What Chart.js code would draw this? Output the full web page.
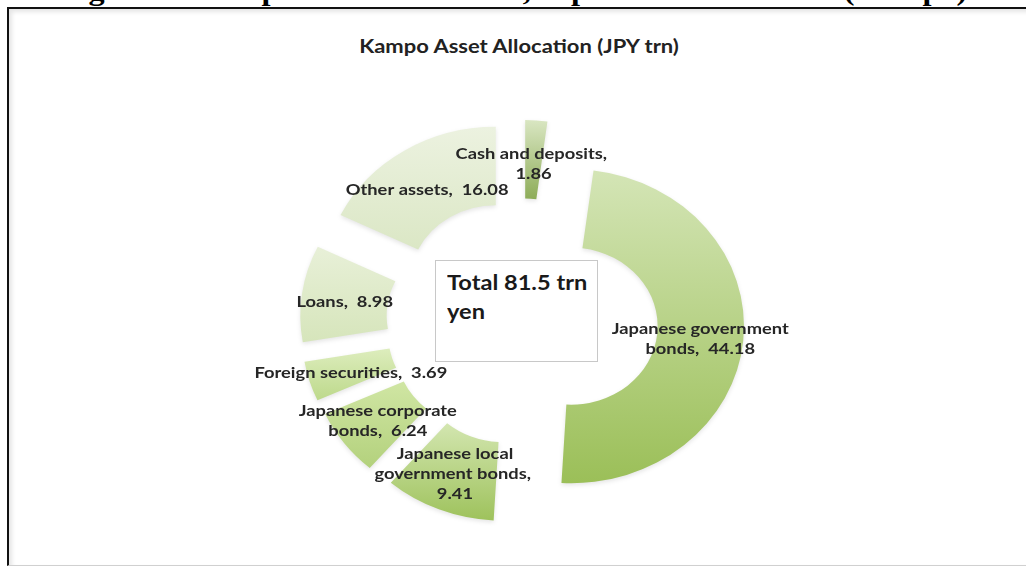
<!DOCTYPE html>
<html>
<head>
<meta charset="utf-8">
<script src="https://cdn.jsdelivr.net/npm/chart.js@4"></script>
<style>
  body { margin: 0; width: 1026px; height: 568px; overflow: hidden; background: #fff; position: relative; }
  .caption { position: absolute; left: 60px; top: -25px; font: bold 28px "Liberation Serif", serif; white-space: nowrap; color: #000; transform: scaleX(1.15); transform-origin: left top; }
  .frame { position: absolute; left: 7px; top: 7px; width: 1040px; height: 556px; border-left: 2px solid #111; border-top: 2px solid #111; border-bottom: 1px solid #d0d0d0; box-shadow: inset 3px 3px 4px rgba(0,0,0,0.10); }
  .title { position: absolute; left: 0; width: 1038px; top: 35px; text-align: center; }
  .title span { display: inline-block; font: bold 18px Lato, sans-serif; color: #222; transform: scaleX(1.22); }
  .total { position: absolute; left: 435px; top: 260px; width: 163px; height: 102px; box-sizing: border-box; border: 1px solid #c8c8c8; background: #fff; padding: 7px 0 0 11px; }
  .total div { font: bold 20px Lato, sans-serif; line-height: 29px; color: #1a1a1a; transform: scaleX(1.18); transform-origin: left top; white-space: nowrap; }
  #chart { position: absolute; left: 0; top: 0; }
</style>
</head>
<body>
<div class="caption">Figure 8: Kampo Asset Allocation, Japan Post Insurance (Kampo)</div>
<div class="frame"></div>
<div class="title"><span>Kampo Asset Allocation (JPY trn)</span></div>
<div class="total"><div>Total 81.5 trn<br>yen</div></div>
<canvas id="chart" width="1026" height="568"></canvas>
<script>
// data, clockwise from 12 o'clock
const categories = ["Cash and deposits", "Japanese government bonds", "Japanese local government bonds",
    "Japanese corporate bonds", "Foreign securities", "Loans", "Other assets"];
const values = [1.86, 44.18, 9.41, 6.24, 3.69, 8.98, 16.08];

// look
const topColors    = ["#d9e6c2", "#d4e5b6", "#d3e6b0", "#d0e6a4", "#ddedbd", "#e8f0d8", "#ecf2e0"];
const bottomColors = ["#8dac58", "#9bbf58", "#9ec25c", "#b3d17c", "#bdd98b", "#d6e5bb", "#dbe7c5"];
const wrapWidths = [170, 200, 175, 190, 260, 180, 230];
const labelNudge = [[0, 5], [0, 2], [0, 1], [-1, 2], [0, 3], [0, 3], [0, 6]];
const explode = 45;
const stretchX = 1.1;
const textStretch = 1.22;

const explodePlugin = {
    id: "explode",
    beforeDatasetDraw(chart, args) {
        const ctx = chart.ctx;
        args.meta.data.forEach((arc, i) => {
            const mid = (arc.startAngle + arc.endAngle) / 2;
            const tx = Math.cos(mid) * explode;
            const ty = Math.sin(mid) * explode;
            // vertical extent of the slice, for its gradient
            let yMin = Infinity, yMax = -Infinity;
            for (let k = 0; k <= 40; k++) {
                const a = arc.startAngle + (arc.endAngle - arc.startAngle) * k / 40;
                [arc.innerRadius, arc.outerRadius].forEach(r => {
                    const y = arc.y + ty + Math.sin(a) * r;
                    yMin = Math.min(yMin, y);
                    yMax = Math.max(yMax, y);
                });
            }
            const grad = ctx.createLinearGradient(0, yMin - ty, 0, yMax - ty);
            grad.addColorStop(0, topColors[i]);
            grad.addColorStop(1, bottomColors[i]);
            arc.options.backgroundColor = grad;
            ctx.save();
            ctx.translate(arc.x, arc.y);
            ctx.scale(stretchX, 1);
            ctx.translate(-arc.x, -arc.y);
            ctx.translate(tx, ty);
            ctx.shadowColor = "rgba(0,0,0,0.10)";
            ctx.shadowBlur = 4;
            ctx.shadowOffsetY = 2;
            arc.draw(ctx);
            ctx.restore();
        });
        return false;
    }
};

function wrap(ctx, text, maxW) {
    const words = text.split(" ");
    const lines = [];
    let line = "";
    words.forEach(w => {
        const test = line ? line + " " + w : w;
        if (line && ctx.measureText(test).width * textStretch > maxW) {
            lines.push(line);
            line = w;
        } else {
            line = test;
        }
    });
    lines.push(line);
    return lines;
}

const labelPlugin = {
    id: "sliceLabels",
    afterDatasetsDraw(chart) {
        const ctx = chart.ctx;
        const meta = chart.getDatasetMeta(0);
        ctx.save();
        ctx.font = "bold 15px Lato, sans-serif";
        ctx.fillStyle = "#262626";
        ctx.textAlign = "center";
        ctx.textBaseline = "middle";
        meta.data.forEach((arc, i) => {
            const mid = (arc.startAngle + arc.endAngle) / 2;
            const r = (arc.innerRadius + arc.outerRadius) / 2 + explode;
            const x = arc.x + Math.cos(mid) * r * stretchX + labelNudge[i][0];
            const y = arc.y + Math.sin(mid) * r + labelNudge[i][1];
            const lines = wrap(ctx, categories[i] + ",  " + values[i].toFixed(2), wrapWidths[i]);
            const lh = 20;
            lines.forEach((ln, k) => {
                ctx.save();
                ctx.translate(x, y + (k - (lines.length - 1) / 2) * lh);
                ctx.scale(textStretch, 1);
                ctx.fillText(ln, 0, 0);
                ctx.restore();
            });
        });
        ctx.restore();
    }
};

new Chart(document.getElementById("chart"), {
    type: "doughnut",
    data: {
        labels: categories,
        datasets: [{
            data: values,
            backgroundColor: topColors,
            borderWidth: 0
        }]
    },
    options: {
        responsive: false,
        devicePixelRatio: 1,
        animation: false,
        radius: 157,
        cutout: "50%",
        layout: { padding: { left: 18, right: 0, top: 100, bottom: 24 } },
        plugins: {
            legend: { display: false },
            tooltip: { enabled: false }
        }
    },
    plugins: [explodePlugin, labelPlugin]
});
</script>
</body>
</html>
